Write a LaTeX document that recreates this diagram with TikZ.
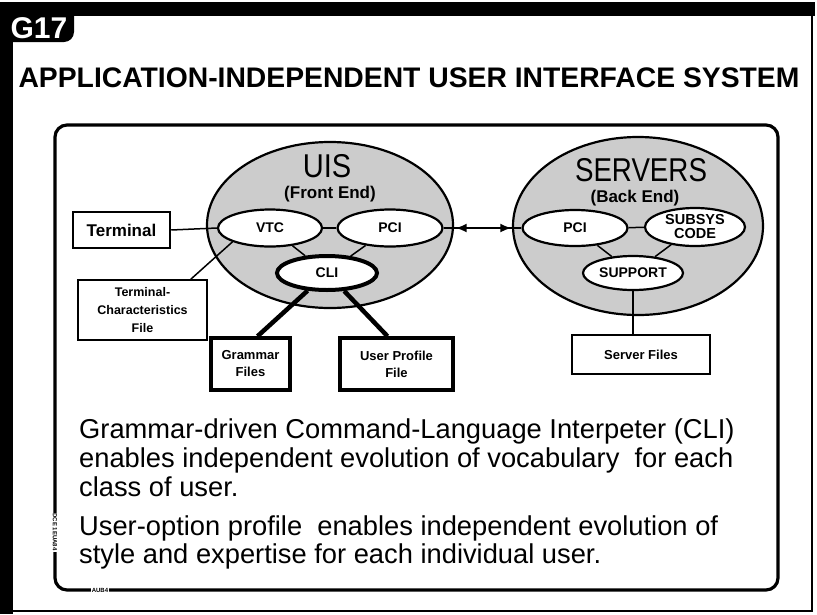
\documentclass[tikz,border=0pt]{standalone}
\usepackage{fontspec}
\setmainfont{Liberation Sans}
\usetikzlibrary{shapes.geometric,arrows.meta,calc}
\begin{document}
\begin{tikzpicture}[x=1pt,y=-1pt,
  bigell/.style={ellipse, draw=black, line width=2.2pt, fill=black!20, inner sep=0pt},
  smallell/.style={ellipse, draw=black, line width=2.2pt, fill=white, inner sep=0pt, align=center,
     font=\fontsize{14}{13}\selectfont\bfseries},
  filebox/.style={rectangle, draw=black, fill=white, inner sep=0pt, align=center,
     font=\fontsize{13}{17}\selectfont\bfseries},
  conn/.style={draw=black, line width=1.5pt},
  thickconn/.style={draw=black, line width=4.5pt},
  bodytext/.style={anchor=base west, inner sep=0pt, font=\fontsize{27.3}{28}\selectfont},
  bigtitle/.style={inner sep=0pt, font=\fontsize{33}{33}\selectfont},
  subtitle/.style={inner sep=0pt, font=\fontsize{17}{17}\selectfont\bfseries},
  tinylabel/.style={fill=white, inner sep=1pt, font=\fontsize{6}{6}\selectfont\bfseries}
]
\useasboundingbox (0,0) rectangle (817,614);
\fill[white] (0,0) rectangle (817,614);
% outer frame
\fill[black] (0,2) rectangle (815,16);
\fill[black] (0,2) rectangle (13,614);
\fill[black] (0,10) -- (74,10) [rounded corners=10pt] -- (74,42) -- (0,42) [sharp corners] -- cycle;
\node[text=white, font=\fontsize{30}{30}\selectfont\bfseries, inner sep=0pt] (g17) at (39,28) {G17};
\draw[line width=2pt] (812,16) -- (812,612);
\draw[line width=1.5pt] (13,611) -- (812,611);
% title
\node[font=\fontsize{28.3}{28}\selectfont\bfseries, inner sep=0pt] (title) at (409,78)
  {APPLICATION-INDEPENDENT USER INTERFACE SYSTEM};
% inner frame
\draw[line width=3.2pt, rounded corners=12pt] (55,125) rectangle (778,590);
% big ellipses
\node[bigell, minimum width=246pt, minimum height=166pt] (uis) at (330,225) {};
\node[bigell, minimum width=250pt, minimum height=178pt] (srv) at (638,226) {};
\node[bigtitle] (uist) at (327,166) {\scalebox{0.88}[1]{UIS}};
\node[subtitle] (fe) at (330,194) {(Front End)};
\node[bigtitle] (srvt) at (641,170) {\scalebox{0.84}[1]{SERVERS}};
\node[subtitle] (be) at (635,198) {(Back End)};
% small ellipses
\node[smallell, minimum width=104pt, minimum height=37pt] (vtc) at (270,228) {VTC};
\node[smallell, minimum width=105pt, minimum height=37pt] (pcia) at (390,228) {PCI};
\node[smallell, line width=4pt, minimum width=100pt, minimum height=34pt] (cli) at (327,273) {CLI};
\node[smallell, minimum width=105pt, minimum height=36pt] (pcib) at (575,228) {PCI};
\node[smallell, minimum width=100pt, minimum height=38pt, font=\fontsize{14.5}{14}\selectfont\bfseries] (subsys) at (695,227) {SUBSYS\\CODE};
\node[smallell, minimum width=100pt, minimum height=34pt] (sup) at (633,273) {SUPPORT};
% boxes
\node[filebox, line width=2.5pt, minimum width=97pt, minimum height=36pt,
      font=\fontsize{17}{17}\selectfont\bfseries] (term) at (121.5,230) {Terminal};
\node[filebox, line width=1.5pt, minimum width=129pt, minimum height=60pt,
      font=\fontsize{12.5}{18}\selectfont\bfseries] (tcf) at (142.5,310) {Terminal-\\Characteristics\\File};
\node[filebox, line width=3.5pt, minimum width=79pt, minimum height=52pt] (gram) at (250.5,364) {Grammar\\Files};
\node[filebox, line width=3.5pt, minimum width=113pt, minimum height=52pt] (prof) at (396.5,364) {User Profile\\File};
\node[filebox, line width=1.5pt, minimum width=138pt, minimum height=39pt] (sfiles) at (641,354.5) {Server Files};
% connectors
\draw[conn] (vtc) -- (pcia);
\draw[conn] (vtc) -- (cli);
\draw[conn] (pcia) -- (cli);
\draw[conn] (pcib) -- (subsys);
\draw[conn] (pcib) -- (sup);
\draw[conn] (subsys) -- (sup);
\draw[conn] (term.east) -- (vtc.west);
\draw[conn] ([xshift=-17pt]tcf.north east) -- (vtc.south west);
\draw[thickconn] (cli) -- ([xshift=7pt]gram.north);
\draw[thickconn] (cli) -- ([xshift=-9pt]prof.north);
\draw[conn] (sup.south) -- (sup.south |- sfiles.north);
\draw[line width=2.5pt] (pcia.east) -- (pcib.west);
\draw[line width=2.5pt, {Latex[length=11pt,width=9pt]}-{Latex[length=11pt,width=9pt]}]
  ([xshift=12pt]pcia.east) -- ([xshift=-10pt]pcib.west);
% body text
\node[bodytext] (l1) at (79,438) {Grammar-driven Command-Language Interpeter (CLI)};
\node[bodytext] (l2) at (79,467) {enables independent evolution of vocabulary\ \ for each};
\node[bodytext] (l3) at (79,496) {class of user.};
\node[bodytext] (l4) at (79,535) {User-option profile\ \ enables independent evolution of};
\node[bodytext] (l5) at (79,563) {style and expertise for each individual user.};
% tiny labels on frame
\node[tinylabel, rotate=-90] (code) at (55,532) {DCE 1EUA84};
\node[tinylabel] (aub) at (100,590) {AUB4};
\end{tikzpicture}
\end{document}
